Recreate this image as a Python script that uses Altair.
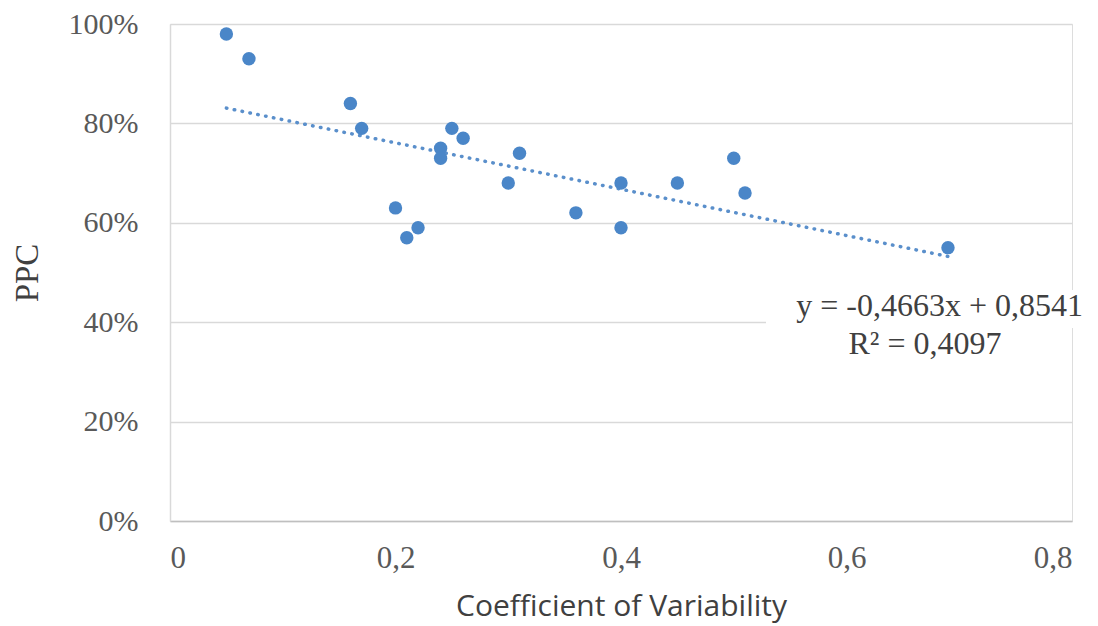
import altair as alt
import pandas as pd

cv = [0.05, 0.07, 0.16, 0.17, 0.20, 0.21, 0.22, 0.24, 0.24, 0.25, 0.26, 0.30, 0.31, 0.36, 0.40, 0.40, 0.45, 0.50, 0.51, 0.69]
ppc = [0.98, 0.93, 0.84, 0.79, 0.63, 0.57, 0.59, 0.75, 0.73, 0.79, 0.77, 0.68, 0.74, 0.62, 0.68, 0.59, 0.68, 0.73, 0.66, 0.55]

slope = -0.4663
intercept = 0.8541
eq_text = "y = -0,4663x + 0,8541"
r2_text = "R² = 0,4097"

pts = pd.DataFrame({"cv": cv, "ppc": ppc})
trend_x = [min(cv), max(cv)]
trend = pd.DataFrame({"cv": trend_x, "ppc": [slope * v + intercept for v in trend_x]})

xscale = alt.Scale(domain=[0, 0.8], nice=False)
yscale = alt.Scale(domain=[0, 1], nice=False)

SERIF = "Liberation Serif"

xaxis = alt.Axis(values=[0, 0.2, 0.4, 0.6, 0.8], labelExpr="replace(format(datum.value, '.1~f'), '.', ',')",
                 grid=False, ticks=False, domain=True, domainColor="#bfbfbf", domainWidth=1.5,
                 labelFont=SERIF, labelFontSize=31, labelColor="#595959", labelPadding=22,
                 title="Coefficient of Variability", titleFont="Open Sans", titleFontSize=30,
                 titleFontWeight="normal", titleColor="#404040", titlePadding=18)
yaxis = alt.Axis(values=[0, 0.2, 0.4, 0.6, 0.8, 1.0], format=".0%",
                 grid=True, gridColor="#d9d9d9", gridWidth=1.5, ticks=False,
                 domain=True, domainColor="#d9d9d9", domainWidth=1.5,
                 labelFont=SERIF, labelFontSize=30, labelColor="#595959", labelPadding=32,
                 title="PPC", titleFont=SERIF, titleFontSize=33, titleFontWeight="normal",
                 titleColor="#404040", titleX=-143, titleY=248.5, titleAlign="center",
                 titleBaseline="middle", titleAngle=270)

points = alt.Chart(pts).mark_circle(size=180, opacity=1, color="#4a86c8").encode(
    x=alt.X("cv:Q", scale=xscale, axis=xaxis),
    y=alt.Y("ppc:Q", scale=yscale, axis=yaxis),
)

line = alt.Chart(trend).mark_line(color="#5a8fcb", strokeWidth=3.5, strokeDash=[0.5, 7.5], strokeCap="round").encode(
    x=alt.X("cv:Q", scale=xscale),
    y=alt.Y("ppc:Q", scale=yscale),
)

eq_df = pd.DataFrame({"t": [eq_text]})
r2_df = pd.DataFrame({"t": [r2_text]})

label_bg = alt.Chart(eq_df).mark_rect(color="white").encode(
    x=alt.value(596), x2=alt.value(915), y=alt.value(266), y2=alt.value(304))
eq1 = alt.Chart(eq_df).mark_text(font=SERIF, fontSize=32, color="#404040",
                                 align="right", baseline="middle").encode(
    text="t:N", x=alt.value(913), y=alt.value(282))
eq2 = alt.Chart(r2_df).mark_text(font=SERIF, fontSize=32, color="#404040",
                                 align="center", baseline="middle").encode(
    text="t:N", x=alt.value(755), y=alt.value(320))

chart = alt.layer(line, points, label_bg, eq1, eq2).properties(
    width=902, height=497,
    autosize=alt.AutoSizeParams(type="none"),
    padding={"left": 162, "top": 16, "right": 10, "bottom": 104},
).configure_view(stroke=None).configure(background="white")

chart.save("out.html", embed_options={"renderer": "svg", "actions": False})
